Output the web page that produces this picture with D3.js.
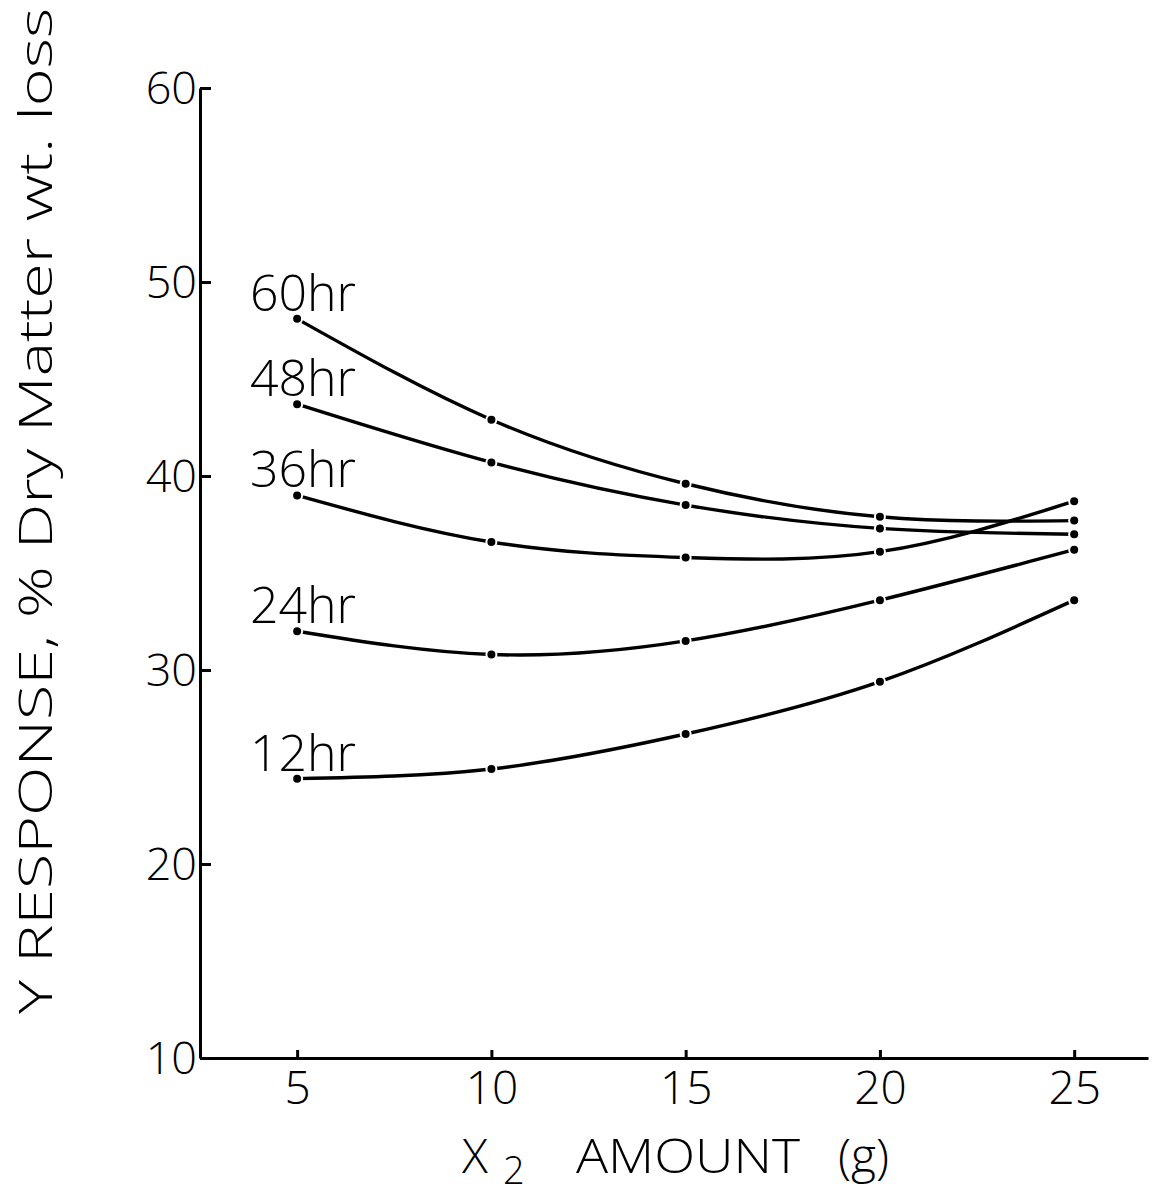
<!DOCTYPE html>
<html>
<head>
<meta charset="utf-8">
<script src="https://cdn.jsdelivr.net/npm/d3@7"></script>
<style>
  html, body { margin: 0; padding: 0; background: #fff; }
  svg { display: block; }
  text { font-family: "Open Sans", "DejaVu Sans", sans-serif; font-weight: 300; fill: #000; }
</style>
</head>
<body>
<svg id="chart" width="1152" height="1196"></svg>
<script>
// X2 amount (g) at which the response was evaluated
const amounts = [5, 10, 15, 20, 25];
// incubation times, one curve each
const hours = ["60hr", "48hr", "36hr", "24hr", "12hr"];
// % dry matter weight loss for each incubation time
const loss60 = [48.1, 42.9, 39.6, 37.9, 37.7];
const loss48 = [43.7, 40.7, 38.5, 37.3, 37.0];
const loss36 = [39.0, 36.6, 35.8, 36.1, 38.7];
const loss24 = [32.0, 30.8, 31.5, 33.6, 36.2];
const loss12 = [24.4, 24.9, 26.7, 29.4, 33.6];
const xTicks = [5, 10, 15, 20, 25];
const yTicks = [10, 20, 30, 40, 50, 60];

const seriesValues = [loss60, loss48, loss36, loss24, loss12];
const series = hours.map((h, i) => ({
  name: h,
  points: amounts.map((a, j) => ({ x: a, y: seriesValues[i][j] }))
}));

const svg = d3.select("#chart");

const x = d3.scaleLinear().domain([2.5, 26.9]).range([200, 1148]);
const y = d3.scaleLinear().domain([10, 60]).range([1058, 88]);

// axes
const yAxis = d3.axisLeft(y).tickValues(yTicks).tickSize(-11).tickSizeOuter(0).tickPadding(3);
const gy = svg.append("g").attr("transform", "translate(200,0)").call(yAxis);
gy.select(".domain").attr("stroke", "#000").attr("stroke-width", 3);
gy.selectAll(".tick line").attr("stroke", "#000").attr("stroke-width", 3);
gy.selectAll(".tick text").attr("font-size", 45).attr("dy", "0.34em")
  .style("font-family", "'Open Sans', 'DejaVu Sans', sans-serif").style("font-weight", 300);

const xAxis = d3.axisBottom(x).tickValues(xTicks).tickSize(-8).tickSizeOuter(0).tickPadding(13);
const gx = svg.append("g").attr("transform", "translate(0,1058)").call(xAxis);
gx.select(".domain").attr("stroke", "#000").attr("stroke-width", 3);
gx.selectAll(".tick line").attr("stroke", "#000").attr("stroke-width", 3);
gx.selectAll(".tick text").attr("font-size", 46)
  .style("font-family", "'Open Sans', 'DejaVu Sans', sans-serif").style("font-weight", 300);

// curves
const line = d3.line().x(d => x(d.x)).y(d => y(d.y)).curve(d3.curveNatural);
const gSeries = svg.append("g");
gSeries.selectAll("path.curve").data(series).join("path")
  .attr("class", "curve")
  .attr("d", d => line(d.points))
  .attr("fill", "none")
  .attr("stroke", "#000")
  .attr("stroke-width", 3.4);

// small breaks around each plotted point, then the point itself
const allPoints = series.flatMap(s => s.points);
gSeries.selectAll("circle.halo").data(allPoints).join("circle")
  .attr("class", "halo")
  .attr("cx", d => x(d.x)).attr("cy", d => y(d.y))
  .attr("r", 6).attr("fill", "#fff");
gSeries.selectAll("circle.dot").data(allPoints).join("circle")
  .attr("class", "dot")
  .attr("cx", d => x(d.x)).attr("cy", d => y(d.y))
  .attr("r", 4).attr("fill", "#000");

// curve labels, right-aligned just above the first point
svg.append("g").selectAll("text").data(series).join("text")
  .attr("x", 356)
  .attr("y", d => y(d.points[0].y) - 8)
  .attr("text-anchor", "end")
  .attr("font-size", 50)
  .text(d => d.name);

// x axis title with subscript
const xt = svg.append("g");
xt.append("text").attr("x", 462).attr("y", 1173).attr("font-size", 48).text("X");
xt.append("text").attr("x", 503).attr("y", 1184).attr("font-size", 38).text("2");
xt.append("text").attr("x", 576).attr("y", 1173).attr("font-size", 48)
  .attr("textLength", 224).attr("lengthAdjust", "spacingAndGlyphs").text("AMOUNT");
xt.append("text").attr("x", 838).attr("y", 1173).attr("font-size", 48).text("(g)");

// y axis title
svg.append("text")
  .attr("transform", "translate(52,1014) rotate(-90)")
  .attr("font-size", 46)
  .attr("textLength", 1006)
  .attr("lengthAdjust", "spacingAndGlyphs")
  .style("font-family", "'Open Sans', 'DejaVu Sans', sans-serif")
  .style("font-weight", 300)
  .text("Y RESPONSE, % Dry Matter wt. loss");
</script>
</body>
</html>
